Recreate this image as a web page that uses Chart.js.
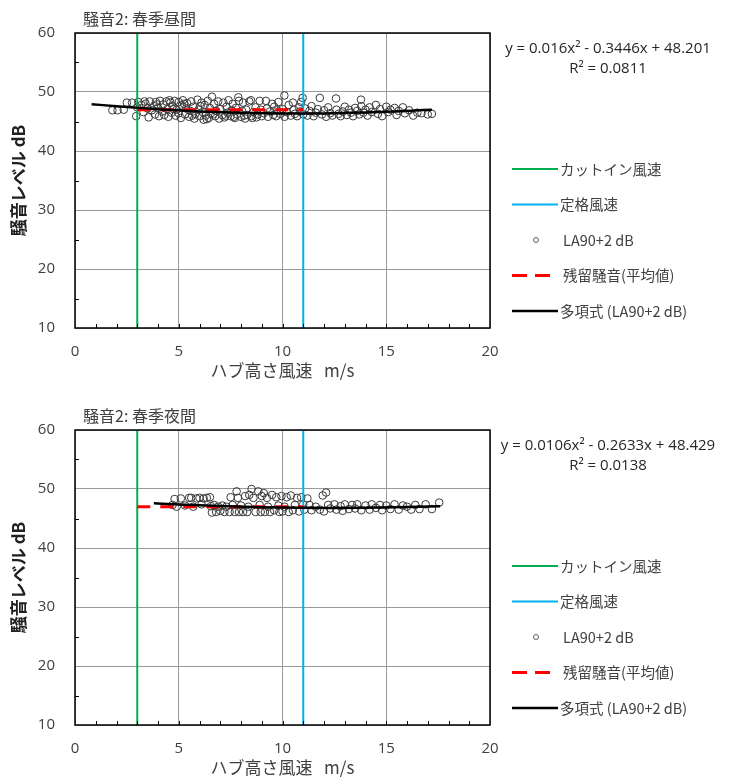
<!DOCTYPE html>
<html>
<head>
<meta charset="utf-8">
<script src="https://cdn.jsdelivr.net/npm/chart.js@4.4.0/dist/chart.umd.min.js"></script>
<style>
  body { margin: 0; background: #fff; overflow: hidden; width: 730px; height: 779px; position: relative; }
  .box { position: absolute; left: 0; width: 730px; height: 390px; }
</style>
</head>
<body>
<div class="box" style="top:0"><canvas id="dayChart" width="730" height="390"></canvas></div>
<div class="box" style="top:397px"><canvas id="nightChart" width="730" height="390"></canvas></div>
<script>
var cutInSpeed = 3;
var ratedSpeed = 11;
var xTicks = [0, 5, 10, 15, 20];
var yTicks = [10, 20, 30, 40, 50, 60];

// spring daytime: [hub wind speed m/s, LA90+2 dB]
var dayPoints = [
  [1.8, 46.9], [2.05, 46.9], [2.35, 47.0], [2.5, 48.2], [2.75, 48.2], [2.95, 45.9], [3.05, 48.3], [3.0, 47.4],
  [3.2, 47.8], [3.3, 46.6], [3.4, 48.0], [3.5, 47.2], [3.55, 45.7], [3.6, 48.4], [3.7, 46.9], [3.8, 47.6],
  [3.85, 46.2], [3.9, 48.3], [4.0, 47.3], [4.05, 45.9], [4.1, 48.5], [4.2, 46.7], [4.25, 47.9], [4.3, 46.1],
  [4.4, 48.4], [4.45, 47.1], [4.5, 45.8], [4.6, 48.2], [4.65, 46.5], [4.7, 47.6], [4.8, 48.5], [4.85, 46.0],
  [4.9, 47.0], [5.0, 48.3], [5.0, 46.4], [3.35, 48.4], [3.95, 47.9], [4.55, 48.6], [4.75, 47.1],
  [5.1, 45.6], [5.15, 47.7], [5.2, 48.6], [5.3, 46.2], [5.35, 47.2], [5.4, 48.1], [5.5, 45.8], [5.55, 46.8],
  [5.6, 48.4], [5.7, 47.5], [5.75, 45.5], [5.8, 46.3], [5.9, 48.7], [5.95, 47.0], [6.0, 45.9], [6.1, 48.2],
  [6.15, 46.6], [6.2, 45.3], [6.25, 47.8], [6.3, 46.0], [6.4, 48.5], [6.45, 45.6], [6.5, 47.3], [6.55, 46.4],
  [6.6, 49.2], [6.7, 48.0], [6.75, 45.9], [6.8, 46.8], [6.9, 48.4], [6.95, 45.5], [7.0, 47.1],
  [5.25, 48.0], [5.65, 46.0], [6.05, 47.6], [6.35, 45.4], [6.65, 46.2],
  [7.1, 46.1], [7.15, 48.2], [7.2, 45.7], [7.3, 47.5], [7.35, 46.5], [7.4, 48.6], [7.5, 45.9], [7.55, 46.9],
  [7.6, 48.0], [7.7, 45.6], [7.75, 47.3], [7.8, 46.2], [7.87, 49.1], [7.9, 48.5], [8.0, 45.8], [8.05, 46.8],
  [8.1, 48.2], [8.2, 45.5], [8.25, 47.0], [8.3, 46.1], [8.4, 48.4], [8.48, 48.6], [8.5, 45.9], [8.6, 46.6],
  [8.7, 47.4], [8.75, 45.7], [8.8, 46.2], [8.9, 48.5], [8.95, 47.0], [9.0, 45.9],
  [7.25, 46.0], [7.65, 45.8], [8.15, 46.0], [8.55, 45.6],
  [9.1, 46.4], [9.2, 48.5], [9.25, 47.2], [9.3, 45.8], [9.4, 46.7], [9.5, 48.0], [9.55, 46.1], [9.6, 47.5],
  [9.7, 45.9], [9.75, 46.9], [9.8, 48.3], [9.9, 46.3], [10.0, 47.1], [10.09, 49.4], [10.1, 45.8], [10.2, 46.6],
  [10.3, 47.8], [10.4, 46.0], [10.5, 48.2], [10.55, 47.0], [10.6, 46.3], [10.7, 45.9], [10.8, 47.4], [10.85, 46.7],
  [10.97, 49.0], [11.0, 46.2], [10.9, 48.3],
  [11.1, 47.2], [11.2, 46.0], [11.3, 46.8], [11.4, 47.6], [11.5, 45.9], [11.6, 46.5], [11.8, 49.0], [11.7, 47.1],
  [11.9, 46.2], [12.0, 46.9], [12.1, 45.8], [12.2, 47.4], [12.3, 46.4], [12.4, 46.0], [12.58, 48.9], [12.6, 47.0],
  [12.7, 46.3], [12.8, 45.9], [12.9, 46.7], [13.0, 47.5], [13.1, 46.1], [13.2, 47.0], [13.3, 46.5], [13.4, 45.9],
  [13.5, 47.3], [13.6, 46.8], [13.7, 46.2], [13.78, 48.7], [13.8, 47.6], [13.9, 46.5], [14.0, 47.0],
  [14.1, 46.0], [14.2, 47.4], [14.3, 46.6], [14.5, 47.8], [14.6, 46.3], [14.7, 47.1], [14.8, 45.9], [15.0, 47.5],
  [15.1, 46.6], [15.2, 47.0], [15.4, 47.3], [15.5, 46.1], [15.6, 46.8], [15.8, 47.4], [15.9, 46.4], [16.1, 46.9],
  [16.3, 46.0], [16.5, 46.5], [16.7, 46.4], [17.0, 46.2], [17.2, 46.3]
];
var dayResidual = 47.0;
var dayTrendX = [0.8, 2, 4, 6, 8, 10, 12, 14, 16, 17.2];
var dayTrendY = [47.94, 47.58, 47.08, 46.71, 46.47, 46.36, 46.37, 46.51, 46.78, 47.01];
var dayEquation = ['y = 0.016x² - 0.3446x + 48.201', 'R² = 0.0811'];

// spring night-time
var nightPoints = [
  [4.8, 48.3], [4.7, 47.3], [4.9, 47.0], [5.1, 48.4], [5.3, 47.2], [5.5, 48.5], [5.6, 48.5], [5.7, 47.0],
  [5.85, 48.4], [6.0, 48.5], [6.1, 47.4], [6.2, 48.4], [6.35, 48.5], [6.5, 48.6], [6.55, 47.1], [6.6, 46.0],
  [6.7, 47.3], [6.8, 46.1], [6.9, 47.0],
  [7.0, 46.3], [7.1, 47.2], [7.2, 46.1], [7.3, 47.0], [7.45, 46.1], [7.5, 48.6], [7.6, 47.3], [7.7, 46.1],
  [7.79, 49.6], [7.85, 48.5], [7.9, 46.1], [8.0, 47.2], [8.1, 46.1], [8.2, 48.8], [8.3, 46.1], [8.35, 47.0],
  [8.4, 49.0], [8.51, 50.0], [8.6, 48.5], [8.7, 46.1], [8.83, 49.6], [8.9, 47.3], [8.95, 46.1], [9.0, 48.8],
  [9.1, 49.3], [9.15, 46.1], [9.25, 48.5], [9.3, 47.0], [9.4, 46.1], [9.5, 49.0], [9.6, 46.4], [9.7, 48.6],
  [9.8, 47.2], [9.85, 46.1], [9.95, 48.8], [10.0, 46.2], [10.1, 47.0], [10.2, 48.6], [10.3, 46.1], [10.4, 48.9],
  [10.5, 46.4], [10.6, 47.3], [10.7, 48.5], [10.8, 46.2], [10.9, 48.6], [11.0, 47.4], [11.05, 46.5], [11.2, 48.4],
  [11.3, 47.3], [11.4, 46.4], [11.6, 47.0], [11.8, 46.5], [11.94, 48.9], [12.1, 49.4], [12.0, 46.2], [12.2, 47.3],
  [12.3, 46.7], [12.5, 47.4], [12.6, 46.5], [12.8, 47.1], [12.9, 46.3], [13.0, 47.4], [13.2, 46.6], [13.35, 47.3],
  [13.5, 46.7], [13.6, 47.4], [13.8, 46.4], [14.0, 47.2], [14.2, 46.5], [14.3, 47.4], [14.5, 46.8], [14.7, 47.3],
  [14.8, 46.4], [15.0, 47.2], [15.2, 46.6], [15.4, 47.4], [15.6, 46.5], [15.8, 47.2], [16.0, 47.0], [16.2, 46.5],
  [16.4, 47.3], [16.6, 46.6], [16.9, 47.4], [17.2, 46.6], [17.55, 47.7]
];
var nightResidual = 47.0;
var nightTrendX = [3.8, 5, 7, 9, 11, 12.4, 14, 16, 17.6];
var nightTrendY = [47.58, 47.38, 47.11, 46.92, 46.82, 46.79, 46.82, 46.93, 47.08];
var nightEquation = ['y = 0.0106x² - 0.2633x + 48.429', 'R² = 0.0138'];

var textColor = '#404040';
var numFont = 'Open Sans, Noto Sans, sans-serif';
var jpFont = '"Noto Sans CJK JP", sans-serif';

function zip(xs, ys) {
  return xs.map(function (x, i) { return { x: x, y: ys[i] }; });
}

// frame, inside minor ticks, heading, trendline equation and legend
var overlay = {
  id: 'overlay',
  afterDatasetsDraw: function (chart) {
    var ctx = chart.ctx, a = chart.chartArea;
    var xs = chart.scales.x, ys = chart.scales.y;
    ctx.save();
    ctx.strokeStyle = '#000';
    ctx.lineWidth = 1;
    ctx.beginPath();
    for (var v = 1; v < 20; v++) {
      var px = Math.round(xs.getPixelForValue(v)) + 0.5;
      ctx.moveTo(px, a.bottom);
      ctx.lineTo(px, a.bottom - 4);
    }
    for (var w = 15; w < 60; w += 10) {
      var py = Math.round(ys.getPixelForValue(w)) + 0.5;
      ctx.moveTo(a.left, py);
      ctx.lineTo(a.left + 4, py);
    }
    ctx.stroke();
    ctx.lineWidth = 1.5;
    ctx.strokeRect(a.left, a.top, a.right - a.left, a.bottom - a.top);
    ctx.restore();
  },
  afterDraw: function (chart, args, opts) {
    var ctx = chart.ctx, a = chart.chartArea;
    ctx.save();
    ctx.fillStyle = textColor;
    ctx.textBaseline = 'middle';

    ctx.font = '16px ' + jpFont;
    ctx.textAlign = 'left';
    ctx.fillText(opts.heading, 83, 19);

    ctx.fillStyle = '#262626';
    ctx.font = '15px ' + numFont;
    ctx.textAlign = 'center';
    ctx.fillText(opts.equation[0], 608, 49);
    ctx.fillText(opts.equation[1], 608, 69);

    ctx.textAlign = 'left';
    ctx.font = '14.5px ' + jpFont;
    chart.data.datasets.forEach(function (ds, i) {
      var y = a.top + 136 + i * 35.5;
      if (ds.showLine === false) {
        ctx.beginPath();
        ctx.arc(536, y, 2.5, 0, Math.PI * 2);
        ctx.strokeStyle = '#606060';
        ctx.lineWidth = 1;
        ctx.stroke();
      } else {
        ctx.beginPath();
        ctx.strokeStyle = ds.borderColor;
        ctx.lineWidth = ds.borderWidth;
        ctx.setLineDash(ds.borderDash ? [15, 8] : []);
        ctx.moveTo(512, y);
        ctx.lineTo(ds.borderDash ? 550 : 558, y);
        ctx.stroke();
        ctx.setLineDash([]);
      }
      ctx.fillStyle = textColor;
      ctx.fillText(ds.label, ds.showLine === false || ds.borderDash ? 563 : 560, y);
    });
    ctx.restore();
  }
};

function buildChart(id, heading, points, residual, trendX, trendY, equation) {
  return new Chart(document.getElementById(id), {
    type: 'scatter',
    data: {
      datasets: [{
        label: 'カットイン風速',
        type: 'line',
        data: [{ x: cutInSpeed, y: 10 }, { x: cutInSpeed, y: 60 }],
        borderColor: '#00b050',
        borderWidth: 2,
        pointRadius: 0,
        order: 2
      }, {
        label: '定格風速',
        type: 'line',
        data: [{ x: ratedSpeed, y: 10 }, { x: ratedSpeed, y: 60 }],
        borderColor: '#00b0f0',
        borderWidth: 2,
        pointRadius: 0,
        order: 2
      }, {
        label: 'LA90+2 dB',
        data: points.map(function (p) { return { x: p[0], y: p[1] }; }),
        showLine: false,
        pointRadius: 3.8,
        borderWidth: 1,
        borderColor: '#3a3a3a',
        backgroundColor: 'rgba(255,255,255,0)',
        order: 3
      }, {
        label: '残留騒音(平均値)',
        type: 'line',
        data: [{ x: cutInSpeed, y: residual }, { x: ratedSpeed, y: residual }],
        borderColor: '#ff0000',
        borderWidth: 3,
        borderDash: [13, 10],
        pointRadius: 0,
        order: 1
      }, {
        label: '多項式 (LA90+2 dB)',
        type: 'line',
        data: zip(trendX, trendY),
        borderColor: '#000000',
        borderWidth: 2.5,
        pointRadius: 0,
        cubicInterpolationMode: 'monotone',
        order: 0
      }]
    },
    options: {
      responsive: false,
      animation: false,
      events: [],
      layout: { padding: { left: 0, top: 33, right: 240, bottom: 0 } },
      plugins: {
        legend: { display: false },
        tooltip: { enabled: false },
        overlay: { heading: heading, equation: equation }
      },
      scales: {
        x: {
          type: 'linear',
          min: 0,
          max: 20,
          afterBuildTicks: function (s) { s.ticks = xTicks.map(function (v) { return { value: v }; }); },
          afterFit: function (s) { s.height = 62; },
          border: { display: false },
          grid: { color: '#9a9a9a', lineWidth: 1, drawTicks: false },
          ticks: { padding: 15, color: textColor, font: { family: numFont, size: 15 }, maxRotation: 0 },
          title: {
            display: true,
            text: 'ハブ高さ風速   m/s',
            color: textColor,
            font: { family: jpFont, size: 17 },
            padding: { top: 0, bottom: 9 }
          }
        },
        y: {
          min: 10,
          max: 60,
          afterBuildTicks: function (s) { s.ticks = yTicks.map(function (v) { return { value: v }; }); },
          afterFit: function (s) { s.width = 75; },
          border: { display: false },
          grid: { color: '#9a9a9a', lineWidth: 1, drawTicks: false },
          ticks: { padding: 20, color: textColor, font: { family: numFont, size: 15 } },
          title: {
            display: true,
            text: '騒音レベル dB',
            color: '#202020',
            font: { family: jpFont, size: 17, weight: 'bold' },
            padding: { top: 8, bottom: 0 }
          }
        }
      }
    },
    plugins: [overlay]
  });
}

buildChart('dayChart', '騒音2: 春季昼間', dayPoints, dayResidual, dayTrendX, dayTrendY, dayEquation);
buildChart('nightChart', '騒音2: 春季夜間', nightPoints, nightResidual, nightTrendX, nightTrendY, nightEquation);
</script>
</body>
</html>
